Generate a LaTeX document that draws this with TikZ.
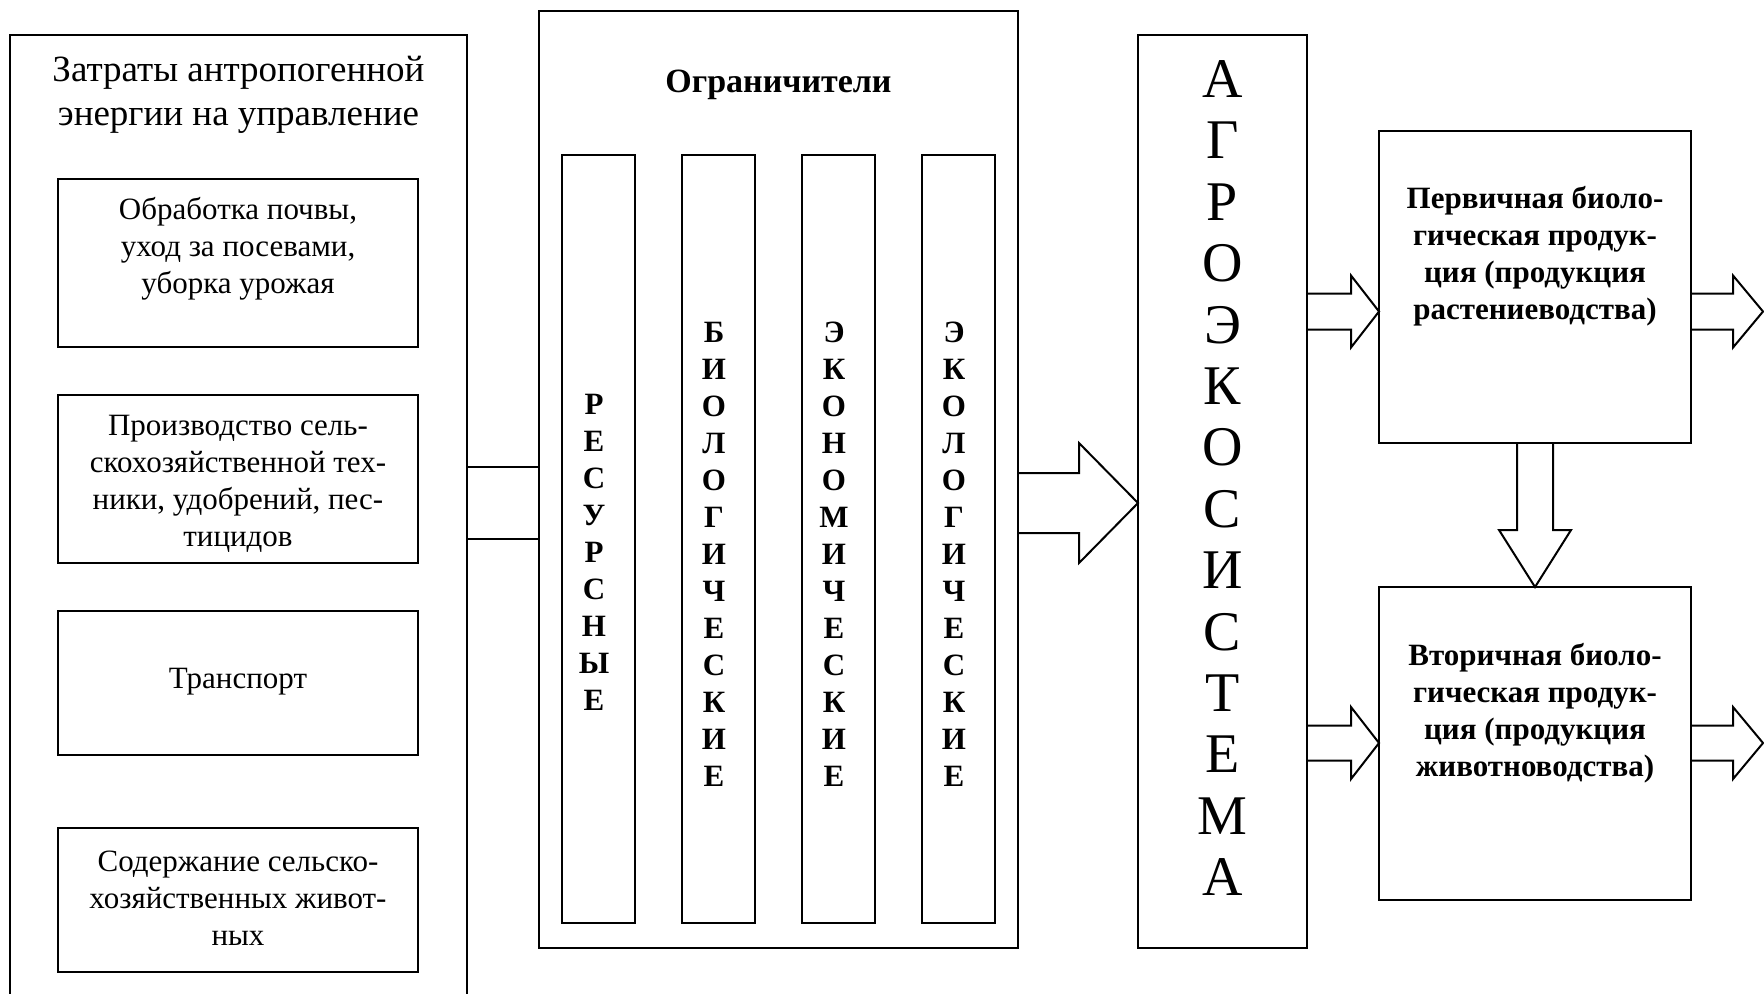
\documentclass[tikz,border=0pt]{standalone}
\usepackage{fontspec}
\setmainfont{Liberation Serif}
\usetikzlibrary{calc}
\newcommand\harrow[5]{%
  \draw[blk] ($(#1)+(0,-#3)$) -- ($(#2)+(-#5,-#3)$) -- ($(#2)+(-#5,-#4)$) -- (#2) -- ($(#2)+(-#5,#4)$) -- ($(#2)+(-#5,#3)$) -- ($(#1)+(0,#3)$);}
\newcommand\varrow[5]{%
  \draw[blk] ($(#1)+(-#3,0)$) -- ($(#2)+(-#3,-#5)$) -- ($(#2)+(-#4,-#5)$) -- (#2) -- ($(#2)+(#4,-#5)$) -- ($(#2)+(#3,-#5)$) -- ($(#1)+(#3,0)$);}
\begin{document}
\begin{tikzpicture}[x=0.5pt,y=-0.5pt, line width=1pt,
  box/.style={draw, rectangle, inner sep=0pt, outer sep=0pt, line width=1pt},
  txt/.style={inner sep=0pt, align=center, font=\fontsize{15.5}{18.5}\selectfont},
  btxt/.style={inner sep=0pt, align=center, font=\fontsize{15.5}{18.5}\selectfont\bfseries},
  blk/.style={draw, line width=1pt, line join=miter}]
\clip (0,0) rectangle (1764,993);
\fill[white] (0,0) rectangle (1764,993);

% left block
\node[box, minimum width=228.5pt, minimum height=487.5pt] (leftbox) at (238.5,522.5) {};
\node[inner sep=0pt, align=center, font=\fontsize{18.5}{22}\selectfont] (title) at (238.5,95)
  {Затраты антропогенной\\энергии на управление};
\node[box, minimum width=180pt, minimum height=84pt] (b1) at (238,263) {};
\node[box, minimum width=180pt, minimum height=84pt] (b2) at (238,479) {};
\node[box, minimum width=180pt, minimum height=72pt] (b3) at (238,683) {};
\node[box, minimum width=180pt, minimum height=72pt] (b4) at (238,900) {};
\node[txt] (t1) at (238,248.5) {Обработка почвы,\\уход за посевами,\\уборка урожая};
\node[txt] (t2) at (238,483.5) {Производство сель-\\скохозяйственной тех-\\ники, удобрений, пес-\\тицидов};
\node[txt] (t3) at (238,682) {Транспорт};
\node[txt] (t4) at (238,898.5) {Содержание сельско-\\хозяйственных живот-\\ных};

% middle block
\node[box, minimum width=239.5pt, minimum height=468.5pt] (midbox) at (778.5,479.5) {};
\node[inner sep=0pt, font=\fontsize{17}{20}\selectfont\bfseries] (ogr) at (778.5,85) {Ограничители};
\node[box, minimum width=36.5pt, minimum height=384pt] (c1) at (598.5,539) {};
\node[box, minimum width=36.5pt, minimum height=384pt] (c2) at (718.5,539) {};
\node[box, minimum width=36.5pt, minimum height=384pt] (c3) at (838.5,539) {};
\node[box, minimum width=36.5pt, minimum height=384pt] (c4) at (958.5,539) {};
\node[btxt] (ct1) at (594,552) {Р\\Е\\С\\У\\Р\\С\\Н\\Ы\\Е};
\node[btxt] (ct2) at (714,554) {Б\\И\\О\\Л\\О\\Г\\И\\Ч\\Е\\С\\К\\И\\Е};
\node[btxt] (ct3) at (834,554) {Э\\К\\О\\Н\\О\\М\\И\\Ч\\Е\\С\\К\\И\\Е};
\node[btxt] (ct4) at (954,554) {Э\\К\\О\\Л\\О\\Г\\И\\Ч\\Е\\С\\К\\И\\Е};

% agroecosystem
\node[box, minimum width=84.5pt, minimum height=456.5pt] (agro) at (1222.5,491.5) {};
\node[inner sep=0pt, align=center, font=\fontsize{28}{30.7}\selectfont] (agt) at (1222.5,478)
  {А\\Г\\Р\\О\\Э\\К\\О\\С\\И\\С\\Т\\Е\\М\\А};

% products
\node[box, minimum width=156pt, minimum height=156pt] (prim) at (1535,287) {};
\node[btxt] (pt) at (1535,256.5) {Первичная биоло-\\гическая продук-\\ция (продукция\\растениеводства)};
\node[box, minimum width=156pt, minimum height=156.5pt] (sec) at (1535,743.5) {};
\node[btxt] (st) at (1535,713) {Вторичная биоло-\\гическая продук-\\ция (продукция\\животноводства)};

% connector left -> middle
\coordinate (k1) at (0,467);
\coordinate (k2) at (0,539);
\draw (leftbox.east |- k1) -- (midbox.west |- k1);
\draw (leftbox.east |- k2) -- (midbox.west |- k2);

% block arrows
\coordinate (a1) at (0,503);
\harrow{midbox.east |- a1}{agro.west |- a1}{30}{60}{59}
\coordinate (p) at (0,311.5);
\coordinate (o1) at (1763,311.5);
\harrow{agro.east |- p}{prim.west |- p}{18}{36}{28}
\harrow{prim.east |- p}{o1}{18}{36}{30}
\coordinate (s) at (0,743);
\coordinate (o2) at (1763,743);
\harrow{agro.east |- s}{sec.west |- s}{17.5}{36}{28}
\harrow{sec.east |- s}{o2}{17.5}{36}{30}
\varrow{prim.south}{sec.north}{18}{36}{57}
\end{tikzpicture}
\end{document}
